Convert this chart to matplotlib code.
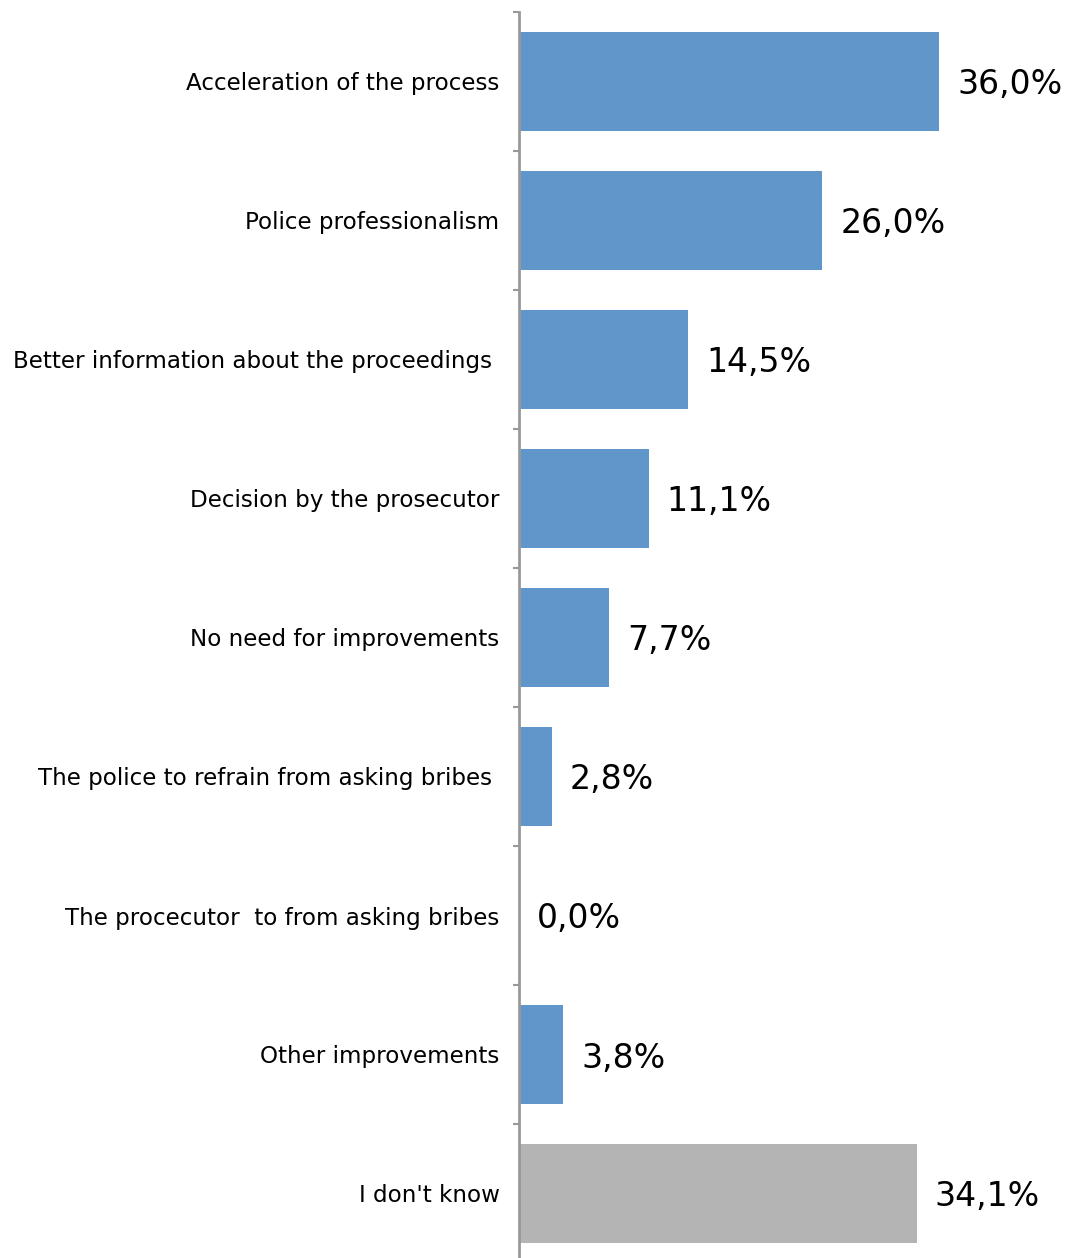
import numpy as np
import matplotlib.pyplot as plt

# %% Data
categories = [
    "Acceleration of the process",
    "Police professionalism",
    "Better information about the proceedings ",
    "Decision by the prosecutor",
    "No need for improvements",
    "The police to refrain from asking bribes ",
    "The procecutor  to from asking bribes",
    "Other improvements",
    "I don't know",
]
values = [36.0, 26.0, 14.5, 11.1, 7.7, 2.8, 0.0, 3.8, 34.1]
value_labels = ["36,0%", "26,0%", "14,5%", "11,1%", "7,7%", "2,8%", "0,0%", "3,8%", "34,1%"]
colors = ["#6096c9"] * 8 + ["#b4b4b4"]

plt.rcParams['font.family'] = ['DejaVu Sans']

# %% Plot
fig = plt.figure(figsize=(10.65, 12.58), dpi=100)
ax = fig.add_axes([519 / 1065, -5 / 1258, 1 - 519 / 1065, 1 - 7 / 1258])

y = np.arange(len(categories))
ax.barh(y, values, height=0.71, color=colors)
ax.set_ylim(len(categories) - 0.5, -0.5)
ax.set_xlim(0, 46.8)

for yi, v, lab in zip(y, values, value_labels):
    ax.annotate(lab, (v, yi), xytext=(18, 0), textcoords='offset pixels',
                va='center_baseline', ha='left', fontsize=23.9, color='black')

ax.set_yticks(y)
ax.set_yticklabels(categories, fontsize=16.6)
ax.tick_params(axis='y', which='major', length=0, pad=14)
ax.set_yticks(np.arange(len(categories) + 1) - 0.5, minor=True)
ax.tick_params(axis='y', which='minor', length=4, width=1.5, color='#999999')
ax.set_xticks([])

for s in ['top', 'right', 'bottom']:
    ax.spines[s].set_visible(False)
ax.spines['left'].set_color('#999999')
ax.spines['left'].set_linewidth(2)

fig.savefig('out.png', dpi=100)
